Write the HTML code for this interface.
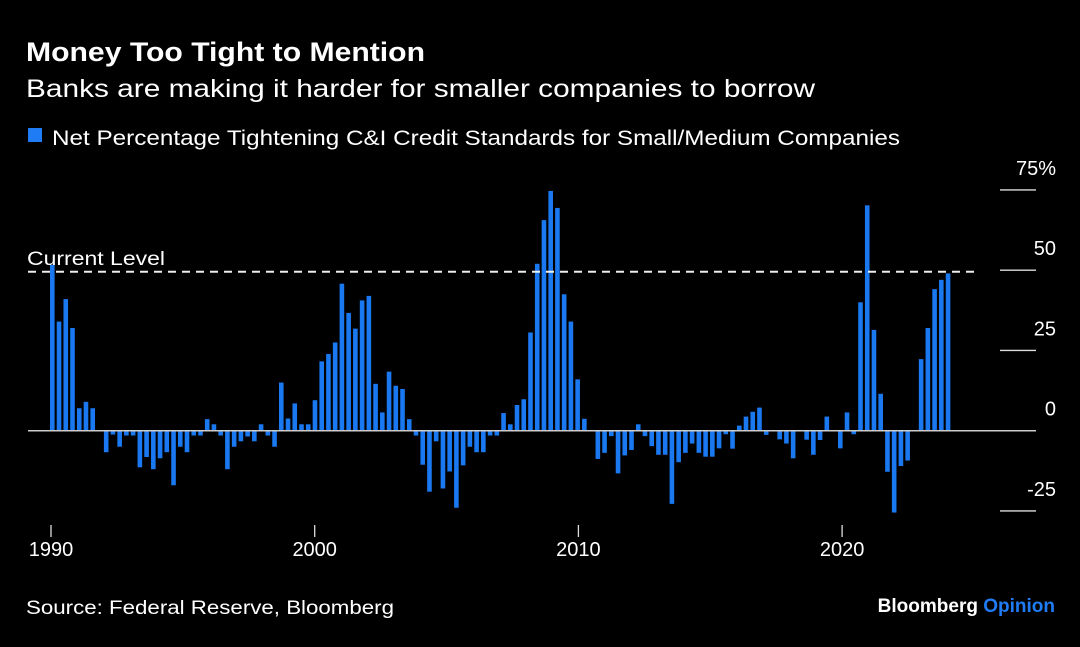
<!DOCTYPE html>
<html><head><meta charset="utf-8"><style>
body{margin:0;background:#000;width:1080px;height:642px;overflow:hidden;font-family:"Liberation Sans",sans-serif;}
svg text{font-family:"Liberation Sans",sans-serif;}
</style></head><body>
<svg id="chart" width="1080" height="642" xmlns="http://www.w3.org/2000/svg">
<rect width="1080" height="642" fill="#000"/>
<text x="26" y="61" fill="#fff" font-size="27" font-weight="bold" textLength="399" lengthAdjust="spacingAndGlyphs">Money Too Tight to Mention</text>
<text x="26" y="97" fill="#fff" font-size="25" textLength="789" lengthAdjust="spacingAndGlyphs">Banks are making it harder for smaller companies to borrow</text>
<rect x="28" y="128" width="14" height="14" fill="#1f7cf5"/>
<text x="52" y="145" fill="#fff" font-size="21" textLength="848" lengthAdjust="spacingAndGlyphs">Net Percentage Tightening C&amp;I Credit Standards for Small/Medium Companies</text>
<g id="axes"></g>
<g id="bars"></g>
<g id="overlay"></g>
<text x="26" y="614" fill="#fff" font-size="19" textLength="368" lengthAdjust="spacingAndGlyphs">Source: Federal Reserve, Bloomberg</text>
<text x="1055" y="612" fill="#fff" font-size="19" font-weight="bold" text-anchor="end">Bloomberg <tspan fill="#1f7cf5">Opinion</tspan></text>
</svg>
<script>
const values = [51.7,34,41,32,7,9,7,0,-6.7,-1.2,-5,-1.5,-1.5,-11.4,-8.2,-12,-8.6,-6.7,-17,-5,-6.7,-1.5,-1.5,3.6,2,-1.5,-12,-5,-3.3,-1.8,-3.3,2,-1.5,-5,15,3.8,8.5,2,2,9.5,21.6,
23.9,27.5,45.8,36.7,31.8,40.6,42,14.6,5.7,18.4,14,13,3.6,-1.5,-10.6,-19,-3.3,-18,-12.7,-24,-10.8,-5,-6.7,-6.7,-1.5,-1.5,5.5,2,8,9.8,30.6,52,
65.6,74.7,69.4,42.5,34,16,3.7,0,-8.8,-6.9,-1.7,-13.3,-7.7,-6,2,-1.7,-4.8,-7.5,-7.5,-22.8,-9.8,-6.9,-4,-6.9,-8.1,-8.1,-5.5,-1.1,-5.6,1.6,4.4,5.9,7.2,-1.3,
0,-2.7,-4,-8.6,0,-2.8,-7.5,-2.9,4.4,0,-5.5,5.7,-1.1,40,70.2,31.4,11.5,-12.8,-25.5,-11,-9.3,0,22.3,32,44.1,47,49];
const yTicks = [75,50,25,0,-25];
const yTickLabels = ["75%","50","25","0","-25"];
const xYears = [1990,2000,2010,2020];
const currentLevel = 49.5;

const NS="http://www.w3.org/2000/svg";
const y = v => 430.7 - v*3.21;
const xBar = i => 52.3 + i*6.735;
const xYear = yr => 51 + (yr-1990)*26.37;
function mk(tag, attrs, parent, text){const e=document.createElementNS(NS,tag);for(const k in attrs)e.setAttribute(k,attrs[k]);if(text!==undefined)e.textContent=text;parent.appendChild(e);return e;}
const axes=document.getElementById('axes'), bars=document.getElementById('bars'), ov=document.getElementById('overlay');
yTicks.forEach((t,k)=>{
  if(t!==0){const l=mk('line',{x1:1000,x2:1036,y1:y(t),y2:y(t),stroke:'#ddd','stroke-width':1.3},axes);
  
  }
  const tx=mk('text',{x:1056,y:y(t)-15,fill:'#fff','font-size':20,'text-anchor':'end'},axes,yTickLabels[k]);
  
  
});
xYears.forEach(yr=>{
  const l=mk('line',{x1:xYear(yr),x2:xYear(yr),y1:525,y2:537,stroke:'#ddd','stroke-width':1.3},axes);
  
  
  const t=mk('text',{x:xYear(yr),y:556,fill:'#fff','font-size':20,'text-anchor':'middle'},axes,String(yr));
  
  
});
values.forEach((v,i)=>{
  const r=mk('rect',{x:xBar(i)-2.3,y:Math.min(y(v),y(0)),width:4.6,height:Math.abs(y(v)-y(0)),fill:'#1a78f0'},bars);
  
  
});
const z=mk('line',{x1:28,x2:1036,y1:y(0),y2:y(0),stroke:'#ccc','stroke-width':1.5},ov);


const d=mk('line',{x1:28,x2:975,y1:y(currentLevel),y2:y(currentLevel),stroke:'#eee','stroke-width':2,'stroke-dasharray':'8,6'},ov);


const cl=mk('text',{x:27,y:y(currentLevel)-7,fill:'#fff','font-size':19,textLength:138,lengthAdjust:'spacingAndGlyphs'},ov,'Current Level');


</script>
</body></html>
